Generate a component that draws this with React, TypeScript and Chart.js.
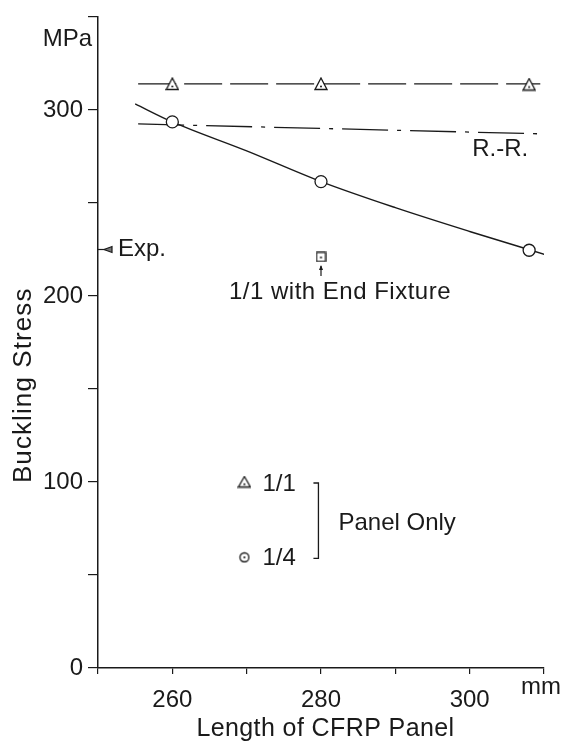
import React, { useEffect, useRef } from "react";
import { Chart, registerables } from "chart.js";

Chart.register(...registerables);

const FONT = "'Liberation Sans', Arial, Helvetica, sans-serif";
const INK = "#1a1a1a";

// Axes
const X_MIN = 250;
const X_MAX = 310;
const X_STEP = 10;
const X_LABELED = [260, 280, 300];
const Y_MIN = 0;
const Y_MAX = 350;
const Y_STEP = 50;
const Y_LABELED = [0, 100, 200, 300];
const X_TITLE = "Length of CFRP Panel";
const Y_TITLE = "Buckling Stress";

// Measured points (Panel Only)
const lengths = [260, 280, 308];
const stress11 = [314, 314, 313.7];
const stress14 = [293.6, 261.5, 224.6];

// Theory lines
const theory11X = [255.4, 309.5];
const theory11Y = [314, 314];
const rrX = [255.4, 309.5];
const rrY = [292.5, 287.2];
const curveX = [255, 260, 270, 280, 290, 300, 310.4];
const curveY = [303.3, 293.6, 278, 261.5, 247.5, 234.7, 222];

// 1/1 with End Fixture
const endFixtureX = [280];
const endFixtureY = [221];

// Experimental value
const expValue = 225;

// Legend entries
const legendX = 269.7;
const legend11Y = 100;
const legend14Y = 59.5;

function pts(xs: number[], ys: number[]) {
  return xs.map((x, i) => ({ x, y: ys[i] }));
}

function triMarker(w: number, h: number, dot: boolean) {
  const c = document.createElement("canvas");
  c.width = w + 2;
  c.height = h + 2;
  const g = c.getContext("2d")!;
  g.lineWidth = 1.3;
  g.strokeStyle = INK;
  g.fillStyle = "#fff";
  g.beginPath();
  g.moveTo(c.width / 2, 1);
  g.lineTo(c.width - 1, c.height - 1.5);
  g.lineTo(1, c.height - 1.5);
  g.closePath();
  g.fill();
  g.stroke();
  if (dot) {
    g.fillStyle = INK;
    g.beginPath();
    g.arc(c.width / 2, c.height * 0.68, 1.0, 0, Math.PI * 2);
    g.fill();
  }
  return c;
}

function circleDotMarker(r: number) {
  const s = Math.ceil(r * 2 + 3);
  const c = document.createElement("canvas");
  c.width = s;
  c.height = s;
  const g = c.getContext("2d")!;
  g.lineWidth = 1.3;
  g.strokeStyle = INK;
  g.fillStyle = "#fff";
  g.beginPath();
  g.arc(s / 2, s / 2, r, 0, Math.PI * 2);
  g.fill();
  g.stroke();
  g.fillStyle = INK;
  g.beginPath();
  g.arc(s / 2, s / 2, 1.1, 0, Math.PI * 2);
  g.fill();
  return c;
}

function squareDotMarker(w: number, h: number) {
  const c = document.createElement("canvas");
  c.width = w + 2;
  c.height = h + 2;
  const g = c.getContext("2d")!;
  g.lineWidth = 1.3;
  g.strokeStyle = INK;
  g.fillStyle = "#fff";
  g.fillRect(1, 1, w, h);
  g.strokeRect(1, 1, w, h);
  g.fillStyle = INK;
  g.beginPath();
  g.arc(c.width / 2, c.height / 2 + 0.5, 1.1, 0, Math.PI * 2);
  g.fill();
  return c;
}

const annotationPlugin = {
  id: "annotations",
  afterDatasetsDraw(chart: any) {
    const { ctx } = chart;
    const xs = chart.scales.x;
    const ys = chart.scales.y;
    const px = (v: number) => xs.getPixelForValue(v);
    const py = (v: number) => ys.getPixelForValue(v);
    const text = (s: string, x: number, y: number, align: CanvasTextAlign, size = 24, spacing = 0) => {
      ctx.font = `${size}px ${FONT}`;
      (ctx as any).letterSpacing = `${spacing}px`;
      ctx.textAlign = align;
      ctx.textBaseline = "middle";
      ctx.fillStyle = INK;
      ctx.fillText(s, x, y);
      (ctx as any).letterSpacing = "0px";
    };
    ctx.save();
    ctx.strokeStyle = INK;
    ctx.fillStyle = INK;

    // axis titles
    text(X_TITLE, px(280.6), 729, "center", 25, 0.4);
    ctx.save();
    ctx.translate(24, py(152));
    ctx.rotate(-Math.PI / 2);
    text(Y_TITLE, 0, 0, "center", 26, 1.1);
    ctx.restore();

    // unit label
    text("MPa", xs.left - 6, py(338), "right");
    // R.-R.
    text("R.-R.", px(304.1), py(278.6), "center");

    // Exp. marker
    const ey = py(expValue);
    const ax = xs.left;
    ctx.lineWidth = 1.2;
    ctx.beginPath();
    ctx.moveTo(ax, ey);
    ctx.lineTo(ax + 14, ey);
    ctx.stroke();
    ctx.beginPath();
    ctx.moveTo(ax + 6, ey);
    ctx.lineTo(ax + 14, ey - 3);
    ctx.lineTo(ax + 14, ey + 3);
    ctx.closePath();
    ctx.fillStyle = "#777";
    ctx.fill();
    ctx.stroke();
    text("Exp.", ax + 20, ey, "left");

    // End fixture arrow and label
    const fx = px(endFixtureX[0]);
    const fy = py(endFixtureY[0]);
    ctx.lineWidth = 1.2;
    ctx.beginPath();
    ctx.moveTo(fx, fy + 19);
    ctx.lineTo(fx, fy + 9);
    ctx.stroke();
    ctx.beginPath();
    ctx.moveTo(fx, fy + 8);
    ctx.lineTo(fx - 2, fy + 13);
    ctx.lineTo(fx + 2, fy + 13);
    ctx.closePath();
    ctx.fillStyle = INK;
    ctx.fill();
    text("1/1 with End Fixture", fx + 19, py(202), "center", 24, 0.5);

    // Legend
    const lx = px(legendX);
    const l1 = py(legend11Y);
    const l4 = py(legend14Y);
    text("1/1", lx + 18, l1 + 2, "left");
    text("1/4", lx + 18, l4 + 1.5, "left");
    const bx = lx + 74;
    ctx.lineWidth = 1.3;
    ctx.beginPath();
    ctx.moveTo(bx - 5, l1 + 1);
    ctx.lineTo(bx, l1 + 1);
    ctx.lineTo(bx, l4 + 1);
    ctx.lineTo(bx - 5, l4 + 1);
    ctx.stroke();
    text("Panel Only", bx + 20, (l1 + l4) / 2 + 4, "left");

    // x unit
    text("mm", xs.right - 23, xs.top + 19, "left");
    ctx.restore();
  },
};

export default function App() {
  const ref = useRef<HTMLCanvasElement | null>(null);

  useEffect(() => {
    document.body.style.margin = "0";
    const canvas = ref.current;
    if (!canvas) return;

    const tri = triMarker(12, 12, true);
    const triLegend = triMarker(12, 11, true);
    const circDot = circleDotMarker(4.5);
    const square = squareDotMarker(9, 9);

    const chart = new Chart(canvas, {
      type: "scatter",
      data: {
        datasets: [
          {
            label: "1/1 legend",
            data: [{ x: legendX, y: legend11Y }],
            pointStyle: triLegend as any,
            pointRadius: 6,
            showLine: false,
          },
          {
            label: "1/4 legend",
            data: [{ x: legendX, y: legend14Y }],
            pointStyle: circDot as any,
            pointRadius: 6,
            showLine: false,
          },
          {
            label: "1/1 with End Fixture",
            data: pts(endFixtureX, endFixtureY),
            pointStyle: square as any,
            pointRadius: 6,
            showLine: false,
          },
          {
            label: "1/1",
            data: pts(lengths, stress11),
            pointStyle: tri as any,
            pointRadius: 7,
            showLine: false,
          },
          {
            label: "1/4",
            data: pts(lengths, stress14),
            pointStyle: "circle",
            pointRadius: 6,
            borderColor: INK,
            backgroundColor: "#fff",
            borderWidth: 1.3,
            showLine: false,
          },
          {
            label: "1/4 theory",
            data: pts(curveX, curveY),
            showLine: true,
            borderColor: INK,
            borderWidth: 1.4,
            pointRadius: 0,
            cubicInterpolationMode: "monotone",
            fill: false,
          },
          {
            label: "R.-R.",
            data: pts(rrX, rrY),
            showLine: true,
            borderColor: INK,
            borderWidth: 1.3,
            borderDash: [46, 9, 4, 9],
            pointRadius: 0,
            fill: false,
          },
          {
            label: "1/1 theory",
            data: pts(theory11X, theory11Y),
            showLine: true,
            borderColor: INK,
            borderWidth: 1.3,
            borderDash: [38, 8],
            pointRadius: 0,
            fill: false,
          },
        ],
      },
      options: {
        responsive: false,
        animation: false,
        devicePixelRatio: 1,
        events: [],
        layout: { padding: { top: 13, right: 19, left: 0, bottom: 0 } },
        plugins: {
          legend: { display: false },
          tooltip: { enabled: false },
        },
        scales: {
          x: {
            type: "linear",
            position: "bottom",
            min: X_MIN,
            max: X_MAX,
            afterFit: (s: any) => {
              s.height = 73;
            },
            ticks: {
              stepSize: X_STEP,
              autoSkip: false,
              maxRotation: 0,
              color: INK,
              padding: 14,
              font: { family: FONT, size: 24, lineHeight: 1 },
              callback: (v: any) => (X_LABELED.includes(Number(v)) ? String(v) : ""),
            },
            grid: {
              drawOnChartArea: false,
              drawTicks: true,
              tickLength: 6,
              color: INK,
              lineWidth: 1.2,
            },
            border: { display: true, color: INK, width: 1.5 },
            title: { display: false },
          },
          y: {
            type: "linear",
            position: "left",
            min: Y_MIN,
            max: Y_MAX,
            afterFit: (s: any) => {
              s.width = 98;
            },
            ticks: {
              stepSize: Y_STEP,
              autoSkip: false,
              color: INK,
              padding: 5,
              font: { family: FONT, size: 24, lineHeight: 1 },
              callback: (v: any) => (Y_LABELED.includes(Number(v)) ? String(v) : ""),
            },
            grid: {
              drawOnChartArea: false,
              drawTicks: true,
              tickLength: 10,
              color: INK,
              lineWidth: 1.2,
            },
            border: { display: true, color: INK, width: 1.5 },
            title: { display: false },
          },
        },
      },
      plugins: [annotationPlugin],
    });

    return () => {
      chart.destroy();
    };
  }, []);

  return (
    <div style={{ width: 563, height: 741, background: "#fff" }}>
      <canvas ref={ref} width={563} height={741} style={{ display: "block" }} />
    </div>
  );
}
